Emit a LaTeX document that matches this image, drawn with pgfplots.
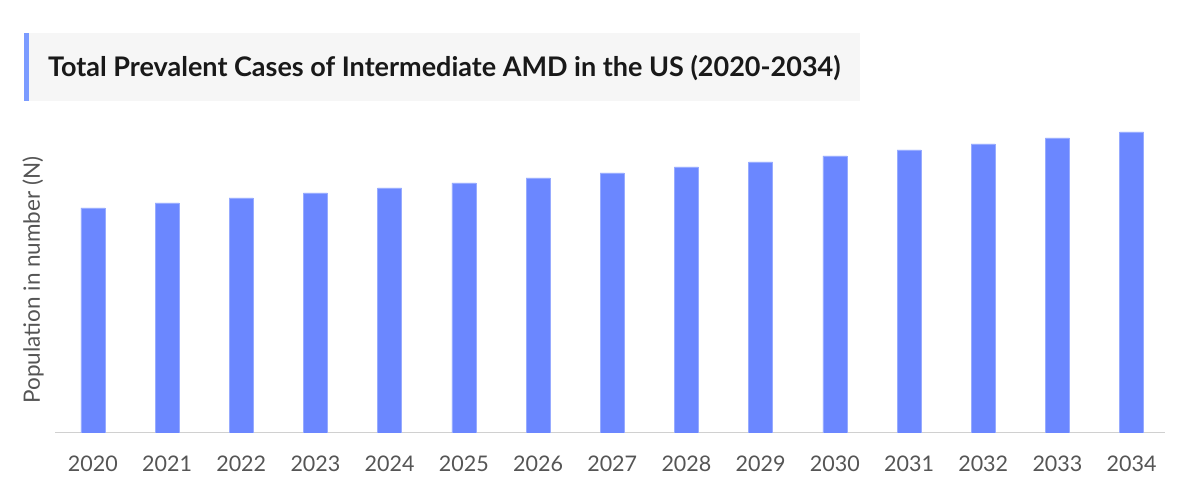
\documentclass[border=0pt]{standalone}
\usepackage{pgfplots}
\pgfplotsset{compat=1.18}
\usepackage{fontspec}
\setmainfont{Lato}
\definecolor{barblue}{HTML}{6B87FF}
\definecolor{accent}{HTML}{7B9BFF}
\definecolor{titlebg}{HTML}{F6F6F6}
\definecolor{ticktext}{HTML}{555555}
\definecolor{axisgray}{HTML}{D0D0D0}
\begin{document}
\begin{tikzpicture}[x=1bp,y=1bp]
\useasboundingbox (0,0) rectangle (1200,500);
% title box
\fill[titlebg] (24,399) rectangle (860,467);
\fill[accent] (24,399) rectangle (29,467);
\node[anchor=west,font=\fontsize{27bp}{31bp}\selectfont\bfseries,text=black!90,inner sep=0pt] at (48,432) {Total Prevalent Cases of Intermediate AMD in the US (2020-2034)};
% y label
\node[rotate=90,font=\fontsize{22.5bp}{26bp}\selectfont,text=ticktext] at (33,220) {Population in number (N)};
\begin{axis}[
    at={(55bp,67bp)}, anchor=south west,
    scale only axis,
    width=1110bp, height=313bp,
    xmin=-0.51, xmax=14.45,
    ymin=0, ymax=313,
    axis x line=bottom,
    axis y line=none,
    axis line style={axisgray, line width=1bp, -},
    xtick={0,...,14},
    xticklabels={2020,2021,2022,2023,2024,2025,2026,2027,2028,2029,2030,2031,2032,2033,2034},
    major tick length=0pt,
    xticklabel style={font=\fontsize{21.5bp}{25bp}\selectfont, text=ticktext, yshift=-19bp},
    ybar, bar width=24bp,
]
\addplot[fill=barblue, draw=barblue!70!white, line width=0.5bp] coordinates {
(0,225) (1,230) (2,235) (3,240) (4,245) (5,250) (6,255) (7,260)
(8,266) (9,271) (10,277) (11,283) (12,289) (13,295) (14,301)};
\end{axis}
\end{tikzpicture}
\end{document}
